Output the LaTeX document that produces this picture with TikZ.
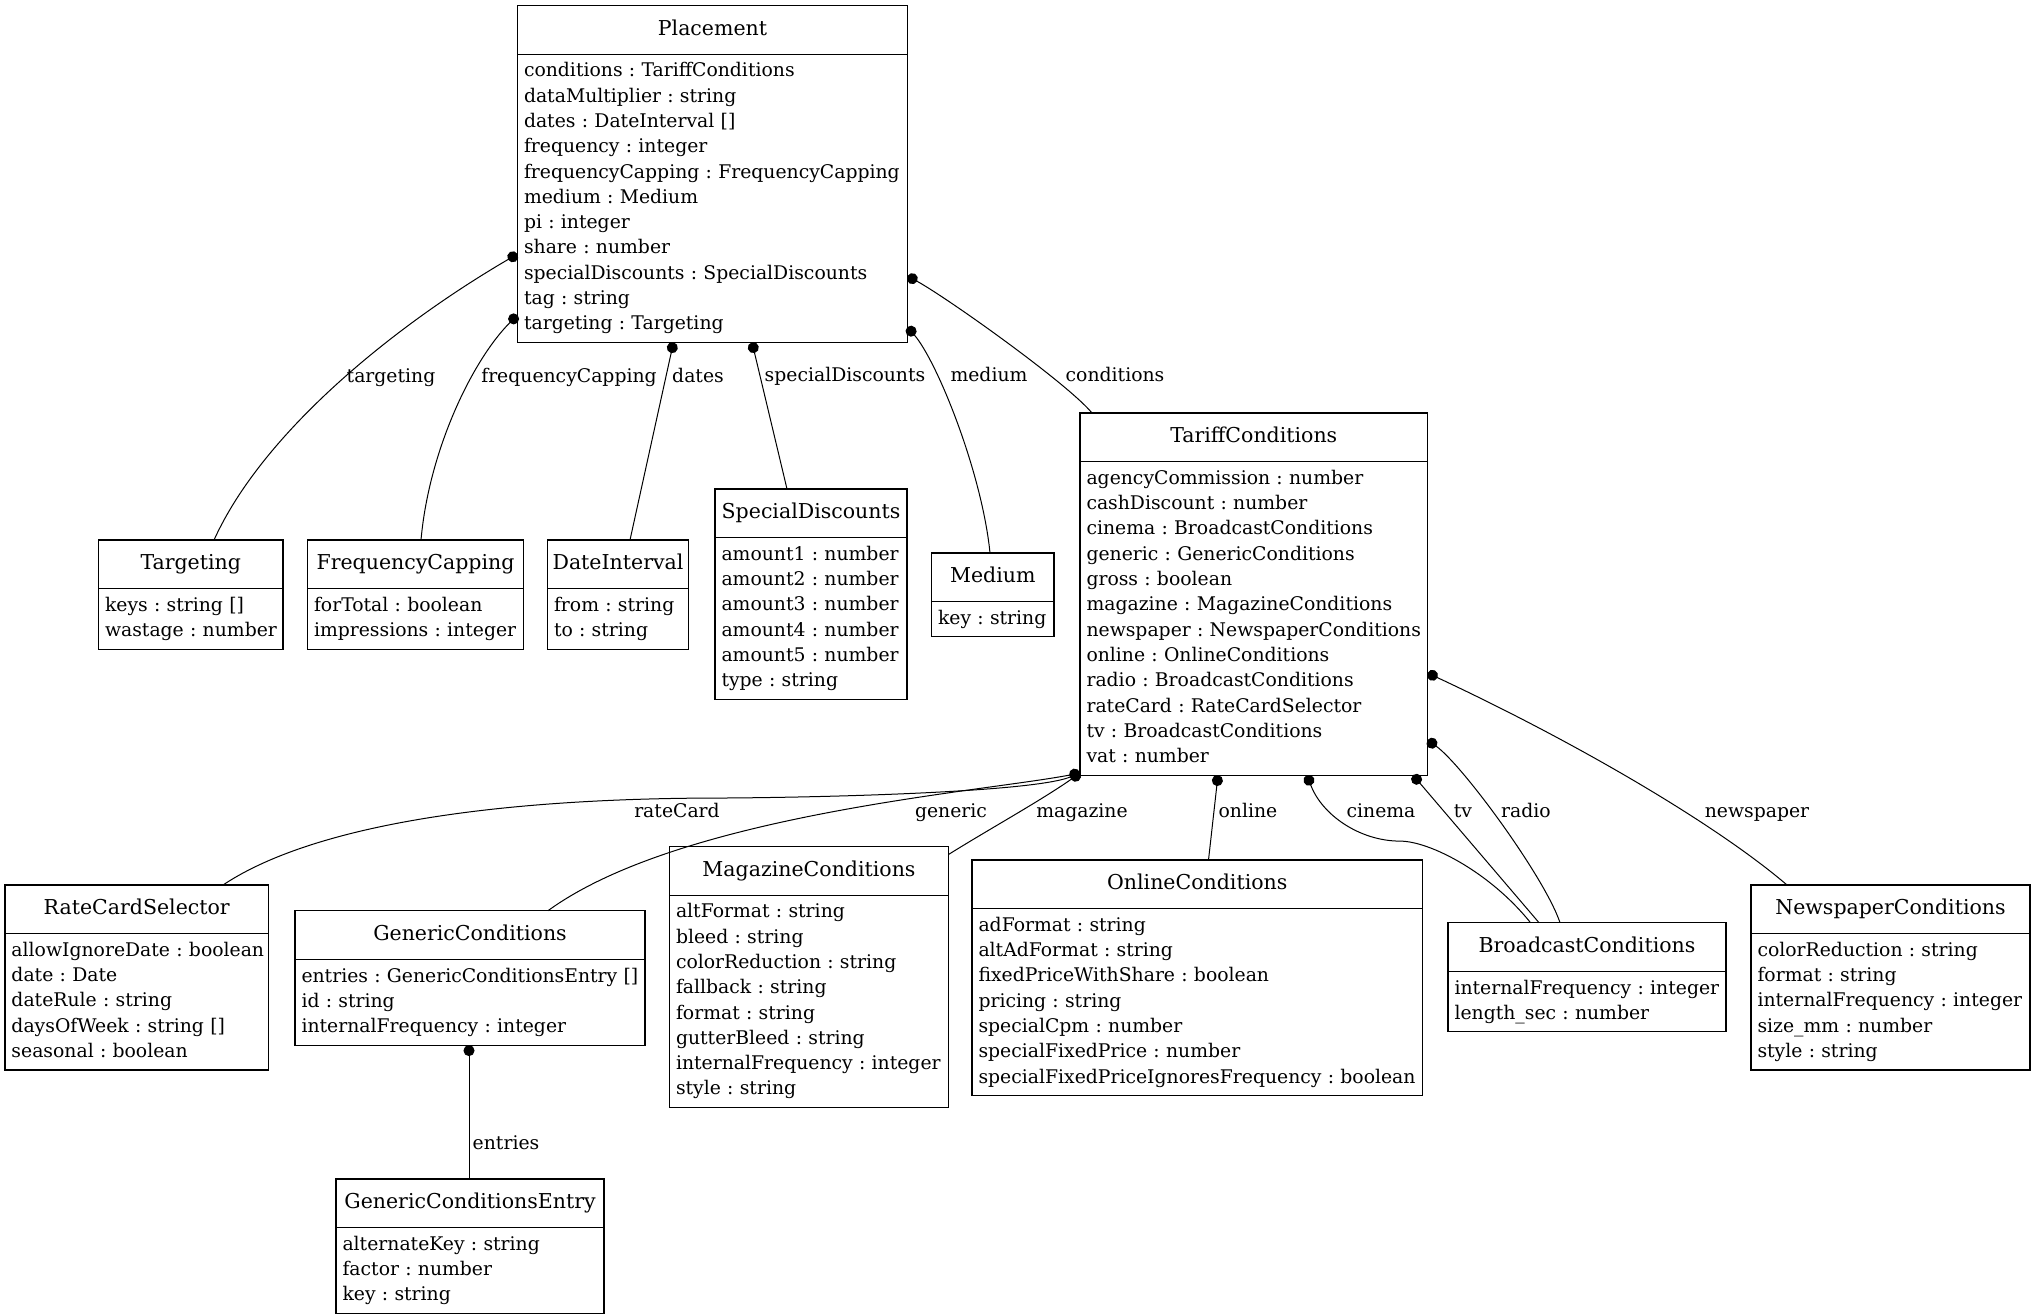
\documentclass[tikz,border=0pt]{standalone}
\usepackage{fontspec}
\setmainfont{DejaVu Serif}
\usetikzlibrary{arrows.meta}
\usetikzlibrary{shapes.multipart}
\usetikzlibrary{calc}
\setlength{\parindent}{0pt}
\frenchspacing
\newcommand{\member}[1]{\mbox{\strut #1}}
\newcommand{\classtitle}[1]{\hbox to\hsize{\hss\rule[-14.2pt]{0pt}{38.9pt}\fontsize{20.5}{25.3}\selectfont #1\hss}}
\tikzset{
    every node/.append style={font=\fontsize{18.8}{25.3}\selectfont},
    umlclass/.style={draw, line width=1.1pt, rectangle split, rectangle split parts=2,
        anchor=north west, inner xsep=6.5pt, inner ysep=4.35pt, outer sep=0pt, align=left},
    assoc/.style={line width=1pt, {Circle[length=11pt]}-},
    role/.style={anchor=base, inner sep=0pt},
}
\begin{document}
\begin{tikzpicture}[x=1pt, y=-1pt]
  \fill[white] (0,0) rectangle (2034,1316);
  \useasboundingbox (0,0) rectangle (2034,1316);

  % classes
  \node[umlclass, text width=377pt] (pl) at (517.5,5.5) {\classtitle{Placement}
    \nodepart{two}\member{conditions : TariffConditions}\\
    \member{dataMultiplier : string}\\
    \member{dates : DateInterval []}\\
    \member{frequency : integer}\\
    \member{frequencyCapping : FrequencyCapping}\\
    \member{medium : Medium}\\
    \member{pi : integer}\\
    \member{share : number}\\
    \member{specialDiscounts : SpecialDiscounts}\\
    \member{tag : string}\\
    \member{targeting : Targeting}};
  \node[umlclass, text width=171.5pt] (tg) at (98.5,540) {\classtitle{Targeting}
    \nodepart{two}\member{keys : string []}\\
    \member{wastage : number}};
  \node[umlclass, text width=203pt] (fc) at (307.5,540) {\classtitle{FrequencyCapping}
    \nodepart{two}\member{forTotal : boolean}\\
    \member{impressions : integer}};
  \node[umlclass, text width=128pt] (di) at (547.5,540) {\classtitle{DateInterval}
    \nodepart{two}\member{from : string}\\
    \member{to : string}};
  \node[umlclass, text width=179pt] (sd) at (715,489) {\classtitle{SpecialDiscounts}
    \nodepart{two}\member{amount1 : number}\\
    \member{amount2 : number}\\
    \member{amount3 : number}\\
    \member{amount4 : number}\\
    \member{amount5 : number}\\
    \member{type : string}};
  \node[umlclass, text width=109.5pt] (md) at (931.5,553) {\classtitle{Medium}
    \nodepart{two}\member{key : string}};
  \node[umlclass, text width=334.5pt] (tc) at (1080,413) {\classtitle{TariffConditions}
    \nodepart{two}\member{agencyCommission : number}\\
    \member{cashDiscount : number}\\
    \member{cinema : BroadcastConditions}\\
    \member{generic : GenericConditions}\\
    \member{gross : boolean}\\
    \member{magazine : MagazineConditions}\\
    \member{newspaper : NewspaperConditions}\\
    \member{online : OnlineConditions}\\
    \member{radio : BroadcastConditions}\\
    \member{rateCard : RateCardSelector}\\
    \member{tv : BroadcastConditions}\\
    \member{vat : number}};
  \node[umlclass, text width=250.5pt] (rc) at (5,885) {\classtitle{RateCardSelector}
    \nodepart{two}\member{allowIgnoreDate : boolean}\\
    \member{date : Date}\\
    \member{dateRule : string}\\
    \member{daysOfWeek : string []}\\
    \member{seasonal : boolean}};
  \node[umlclass, text width=337pt] (gc) at (295,910.7) {\classtitle{GenericConditions}
    \nodepart{two}\member{entries : GenericConditionsEntry []}\\
    \member{id : string}\\
    \member{internalFrequency : integer}};
  \node[umlclass, text width=266pt] (mc) at (669.5,846.5) {\classtitle{MagazineConditions}
    \nodepart{two}\member{altFormat : string}\\
    \member{bleed : string}\\
    \member{colorReduction : string}\\
    \member{fallback : string}\\
    \member{format : string}\\
    \member{gutterBleed : string}\\
    \member{internalFrequency : integer}\\
    \member{style : string}};
  \node[umlclass, text width=437.5pt] (oc) at (972,860) {\classtitle{OnlineConditions}
    \nodepart{two}\member{adFormat : string}\\
    \member{altAdFormat : string}\\
    \member{fixedPriceWithShare : boolean}\\
    \member{pricing : string}\\
    \member{specialCpm : number}\\
    \member{specialFixedPrice : number}\\
    \member{specialFixedPriceIgnoresFrequency : boolean}};
  \node[umlclass, text width=265pt] (bc) at (1448,922.7) {\classtitle{BroadcastConditions}
    \nodepart{two}\member{internalFrequency : integer}\\
    \member{length\_sec : number}};
  \node[umlclass, text width=266pt] (nc) at (1751,885) {\classtitle{NewspaperConditions}
    \nodepart{two}\member{colorReduction : string}\\
    \member{format : string}\\
    \member{internalFrequency : integer}\\
    \member{size\_mm : number}\\
    \member{style : string}};
  \node[umlclass, text width=255pt] (ge) at (336,1179) {\classtitle{GenericConditionsEntry}
    \nodepart{two}\member{alternateKey : string}\\
    \member{factor : number}\\
    \member{key : string}};

  % associations of Placement
  \draw[assoc] ($(pl.north west)+(0,248.5)$) .. controls +(-120,70) and +(50,-110) .. ($(tg.north west)+(115.5,0)$);
  \draw[assoc] ($(pl.north west)+(0,309.5)$) .. controls +(-45,45) and +(8,-90) .. ($(fc.north west)+(113.5,0)$);
  \draw[assoc] ($(pl.south west)+(156,0)$) -- ($(di.north west)+(82.5,0)$);
  \draw[assoc] ($(pl.south west)+(234.5,0)$) -- ($(sd.north west)+(72,0)$);
  \draw[assoc] ($(pl.north east)+(0,321.5)$) .. controls +(30,35) and +(-8,-80) .. ($(md.north west)+(58.5,0)$);
  \draw[assoc] ($(pl.north east)+(0,270.5)$) .. controls +(40,22) and +(-25,-30) .. ($(tc.north west)+(12,0)$);

  % associations of TariffConditions
  \draw[assoc] ($(tc.south west)+(0,-2)$) .. controls +(-50,20) and +(100,0) .. ++(-380,25)
    .. controls +(-250,2) and +(75,-50) .. ($(rc.north west)+(218,0)$);
  \draw[assoc] ($(tc.south west)+(0,-2)$) .. controls +(-100,19) and +(132,-96) .. ($(gc.north west)+(253,0)$);
  \draw[assoc] ($(tc.south west)+(0,-2)$) .. controls +(-40,28) and +(40,-25) .. ($(mc.north east)+(0,8)$);
  \draw[assoc] ($(tc.south west)+(138,0)$) -- ($(oc.north west)+(236.5,0)$);
  \draw[assoc] ($(tc.south west)+(227,0)$) .. controls +(15,40) and +(-40,0) .. ++(93,66)
    .. controls +(30,0) and +(-40,-50) .. ($(bc.north west)+(82.5,0)$);
  \draw[assoc] ($(tc.south west)+(333,0)$) -- ($(bc.north west)+(91,0)$);
  \draw[assoc] ($(tc.north east)+(0,327)$) .. controls +(35,25) and +(-15,-45) .. ($(bc.north west)+(112,0)$);
  \draw[assoc] ($(tc.north east)+(0,260)$) .. controls +(150,70) and +(-70,-60) .. ($(nc.north west)+(36,0)$);

  % association of GenericConditions
  \draw[assoc] ($(gc.south west)+(174,0)$) -- ($(ge.north west)+(133,0)$);

  % role names
  \node[role] (ltg) at (391,382) {targeting};
  \node[role] (lfc) at (569,382) {frequencyCapping};
  \node[role] (ldi) at (698,382) {dates};
  \node[role] (lsd) at (845,381) {specialDiscounts};
  \node[role] (lmd) at (989,381) {medium};
  \node[role] (ltc) at (1115,381) {conditions};
  \node[role] (lrc) at (677,817) {rateCard};
  \node[role] (lgc) at (951,817) {generic};
  \node[role] (lmc) at (1082,817) {magazine};
  \node[role] (loc) at (1248,817) {online};
  \node[role] (lci) at (1381,817) {cinema};
  \node[role] (ltv) at (1463,817) {tv};
  \node[role] (lra) at (1526,817) {radio};
  \node[role] (lnc) at (1757,817) {newspaper};
  \node[role] (lge) at (506,1149) {entries};
\end{tikzpicture}
\end{document}
